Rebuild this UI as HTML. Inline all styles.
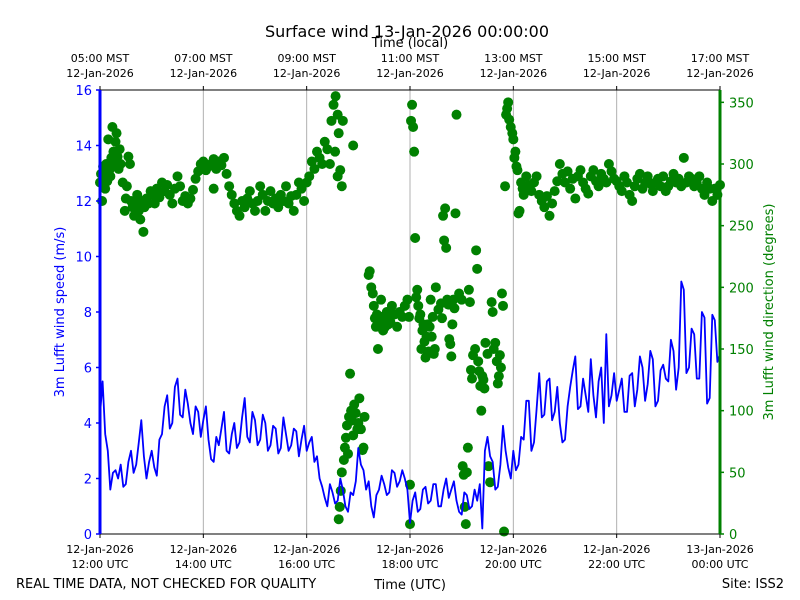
<!DOCTYPE html>
<html><head><meta charset="utf-8"><style>
html,body{margin:0;padding:0;background:#fff}
svg{display:block;font-family:"DejaVu Sans","Liberation Sans",sans-serif}
</style></head><body>
<svg id="chart" width="800" height="600" viewBox="0 0 800 600">
<rect x="0" y="0" width="800" height="600" fill="#fff"/>
<text x="407" y="37" font-size="16" text-anchor="middle">Surface wind 13-Jan-2026 00:00:00</text>
<text x="410" y="47" font-size="13" text-anchor="middle">Time (local)</text>
<g id="grid"></g><g id="dirs"></g><g id="speed"></g><g id="axes"></g>
<text x="410" y="589" font-size="13" text-anchor="middle">Time (UTC)</text>
<text x="16" y="588" font-size="13">REAL TIME DATA, NOT CHECKED FOR QUALITY</text>
<text x="784" y="588" font-size="13" text-anchor="end">Site: ISS2</text>
<text transform="translate(64,312) rotate(-90)" font-size="13" fill="#0000ff" text-anchor="middle">3m Lufft wind speed (m/s)</text>
<text transform="translate(773,312) rotate(-90)" font-size="13" fill="#008000" text-anchor="middle">3m Lufft wind direction (degrees)</text>
</svg>
<script>
const speedValues=[4.3,5.5,3.6,3.0,1.6,2.2,2.3,2.0,2.5,1.7,1.8,2.6,3.0,2.2,2.5,3.3,4.1,2.8,2.0,2.6,
3.0,2.4,2.1,3.4,3.6,4.6,5.0,3.8,4.0,5.3,5.6,4.3,4.2,5.2,4.7,4.0,3.6,4.6,4.4,3.5,
4.1,4.6,3.4,2.7,2.6,3.5,3.2,3.8,4.4,3.0,2.9,3.6,4.0,3.1,3.3,4.2,4.9,3.5,3.3,4.4,
4.1,3.2,3.4,4.3,4.0,3.0,3.2,3.9,3.8,2.9,3.1,4.2,3.6,3.0,3.2,3.8,3.7,2.8,3.4,3.9,
3.0,3.3,3.5,2.6,2.8,2.0,1.7,1.3,1.0,1.8,1.5,1.1,1.2,2.0,1.6,1.0,0.8,1.5,1.4,1.9,
3.1,2.5,2.3,1.6,1.9,1.0,0.6,1.4,1.6,2.1,1.8,1.4,1.5,2.3,2.2,1.7,1.9,2.3,2.0,1.6,
0.4,1.2,1.5,0.8,0.9,1.6,1.7,1.1,1.2,1.8,1.8,1.0,1.0,1.6,2.0,1.3,1.6,1.9,1.2,0.8,
0.7,1.5,1.4,0.9,1.0,1.6,1.2,1.8,0.2,3.0,3.5,2.8,2.6,1.6,1.7,2.5,3.9,3.0,2.4,2.0,
3.0,2.3,2.5,3.5,3.4,4.8,4.8,3.0,3.3,4.5,5.8,4.2,4.3,5.5,5.6,4.1,4.4,5.3,4.0,3.3,
3.4,4.6,5.3,5.9,6.4,4.5,4.6,5.6,5.0,4.4,6.3,5.0,4.2,5.5,6.0,4.0,7.2,4.6,5.0,5.8,
4.8,5.2,5.6,4.4,4.4,5.7,5.8,4.6,5.2,6.4,6.0,4.8,5.4,6.6,6.3,4.6,4.8,5.9,6.1,5.6,
5.5,7.0,6.6,5.2,6.0,9.1,8.8,5.8,6.0,7.4,7.2,5.6,5.6,8.0,7.8,4.7,4.9,7.9,7.7,6.2,6.5];
const dirTimes=[0.00,0.02,0.04,0.06,0.08,0.10,0.12,0.14,0.16,0.18,0.20,0.22,0.24,0.26,0.28,0.30,0.32,0.34,0.36,0.38,0.40,0.44,0.48,0.50,0.52,0.55,0.58,0.60,
0.63,0.66,0.70,0.72,0.75,0.78,0.80,0.84,0.86,0.90,0.94,0.98,1.02,1.06,1.10,1.15,1.20,1.25,1.30,
1.35,1.40,1.45,1.50,1.55,1.60,1.65,1.70,1.75,1.80,1.85,1.90,1.95,
2.00,2.05,2.10,2.15,2.20,2.25,2.30,2.35,2.40,2.45,2.50,2.20,
2.55,2.60,2.65,2.70,2.75,2.80,2.85,2.90,2.95,3.00,3.05,3.10,3.15,3.20,3.25,3.30,3.35,3.40,3.45,3.50,3.55,3.60,3.65,3.70,3.75,3.80,3.85,3.90,3.95,4.00,
4.05,4.10,4.15,4.20,4.25,4.30,4.35,4.40,4.45,4.48,4.52,4.56,4.60,4.62,4.65,4.68,4.70,4.55,4.60,
4.62,4.64,4.66,4.68,4.72,4.74,4.76,4.78,4.80,4.82,4.84,4.86,4.88,4.90,4.92,4.95,4.98,5.00,5.02,5.05,5.08,5.10,5.12,4.90,
5.20,5.22,5.25,5.28,5.30,5.32,5.34,5.36,5.38,5.40,5.42,5.44,5.46,5.48,5.50,5.52,5.55,5.58,5.60,5.62,5.65,5.70,5.75,5.80,5.85,5.90,5.95,5.98,
6.00,6.00,6.02,6.04,6.06,6.08,6.10,6.12,6.14,6.16,6.18,6.20,6.22,6.24,6.26,6.28,6.30,6.32,6.34,6.36,6.38,6.40,6.42,6.44,6.46,6.48,6.50,6.55,6.60,6.62,6.64,6.66,6.68,6.70,6.72,6.74,6.76,6.78,6.80,6.82,6.84,6.86,6.88,6.90,6.95,7.00,
7.02,7.04,7.06,7.08,7.10,7.12,7.14,7.16,7.18,7.20,7.22,7.26,7.28,7.30,7.32,7.34,7.36,7.38,7.40,7.42,7.44,7.46,7.50,7.52,7.55,7.58,7.60,7.62,7.65,7.68,7.70,7.72,7.74,7.76,7.78,7.80,
7.82,7.84,7.86,7.88,7.90,7.92,7.95,7.98,8.00,8.02,8.04,8.06,8.08,8.10,8.12,8.15,8.18,8.20,8.25,8.30,
8.35,8.40,8.45,8.50,8.55,8.60,8.65,8.70,8.75,8.80,8.85,8.90,8.95,9.00,9.05,9.10,9.15,9.20,9.25,9.30,9.35,9.40,9.45,9.50,9.55,9.60,9.65,9.70,9.75,9.80,9.85,9.90,9.95,10.00,
10.05,10.10,10.15,10.20,10.25,10.30,10.35,10.40,10.45,10.50,10.55,10.60,10.65,10.70,10.75,10.80,10.85,10.90,10.95,11.00,11.05,11.10,11.15,11.20,11.25,11.30,11.35,11.40,11.45,11.50,11.55,11.60,11.65,11.70,11.75,11.80,11.85,11.90,11.95,12.00];
const dirValues=[285,292,270,298,288,280,300,286,320,295,290,305,330,310,300,318,325,306,296,312,300,285,262,272,282,306,300,270,
265,258,268,275,262,255,270,245,265,272,268,278,275,268,280,273,285,278,283,
275,268,280,290,282,270,274,268,272,279,288,294,300,
302,295,298,300,304,296,302,299,305,292,282,280,
275,268,262,258,270,265,272,278,268,262,270,282,275,262,270,278,268,272,265,275,270,282,268,274,262,275,285,280,270,285,
290,302,296,310,305,300,318,312,300,335,348,355,340,325,295,282,335,310,290,
12,22,35,50,60,70,78,88,65,95,130,100,92,80,105,98,85,90,110,85,68,70,95,315,
210,213,200,195,185,175,168,178,150,172,168,190,176,165,172,168,180,170,175,172,185,178,168,180,176,185,190,176,
40,8,335,348,330,310,240,192,198,185,175,178,150,165,170,156,143,160,170,148,168,190,160,176,146,150,200,182,187,175,258,238,264,232,190,186,158,154,144,170,190,183,260,340,195,190,
55,48,22,8,50,70,198,188,133,126,145,150,230,215,140,132,120,100,128,125,118,155,146,55,42,188,180,150,155,140,122,128,145,135,195,185,
2,282,340,345,350,336,330,325,320,305,310,298,295,260,262,285,280,275,290,283,
278,285,290,275,270,265,274,258,268,278,286,300,292,285,294,280,288,272,290,295,285,280,276,290,295,286,282,292,288,285,300,294,288,286,
282,278,290,285,275,270,282,288,292,280,285,290,284,278,285,288,282,290,278,282,286,292,285,288,282,305,285,290,288,282,285,290,280,275,285,280,270,280,275,283];
const bottomTickLabels=["12-Jan-2026|12:00 UTC","12-Jan-2026|14:00 UTC","12-Jan-2026|16:00 UTC","12-Jan-2026|18:00 UTC","12-Jan-2026|20:00 UTC","12-Jan-2026|22:00 UTC","13-Jan-2026|00:00 UTC"];
const topTickLabels=["05:00 MST|12-Jan-2026","07:00 MST|12-Jan-2026","09:00 MST|12-Jan-2026","11:00 MST|12-Jan-2026","13:00 MST|12-Jan-2026","15:00 MST|12-Jan-2026","17:00 MST|12-Jan-2026"];
const speedTicks=[0,2,4,6,8,10,12,14,16];
const dirTicks=[0,50,100,150,200,250,300,350];

const NS="http://www.w3.org/2000/svg";
const L=100,R=720,T=90,B=534;
const xs=h=>L+(R-L)*h/12;
const ys=v=>B-(B-T)*v/16;
const yd=v=>B-(B-T)*v/360;
const speedStep=12/(speedValues.length-1);
function mk(tag,attrs,parent){const e=document.createElementNS(NS,tag);for(const k in attrs)e.setAttribute(k,attrs[k]);parent.appendChild(e);return e;}
const grid=document.getElementById('grid'),dirs=document.getElementById('dirs'),sp=document.getElementById('speed'),ax=document.getElementById('axes');
for(let i=1;i<6;i++){const g=mk('line',{x1:xs(i*2),x2:xs(i*2),y1:T,y2:B,stroke:'#b0b0b0','stroke-width':1},grid);

}
for(let i=0;i<dirTimes.length;i++){const c=mk('circle',{cx:xs(dirTimes[i]),cy:yd(dirValues[i]),r:5,fill:'#008000'},dirs);

}
const pts=speedValues.map((v,i)=>xs(i*speedStep).toFixed(1)+','+ys(v).toFixed(1)).join(' ');
const pl=mk('polyline',{points:pts,fill:'none',stroke:'#0000ff','stroke-width':1.8,'stroke-linejoin':'round'},sp);


mk('line',{x1:L,x2:R,y1:T,y2:T,stroke:'#000','stroke-width':1},ax);
mk('line',{x1:L,x2:R,y1:B,y2:B,stroke:'#000','stroke-width':1},ax);
const ls=mk('line',{x1:L,x2:L,y1:T,y2:B,stroke:'#0000ff','stroke-width':3},ax);


const rs=mk('line',{x1:R,x2:R,y1:T,y2:B,stroke:'#008000','stroke-width':3},ax);


bottomTickLabels.forEach((lab,i)=>{const x=xs(i*2);mk('line',{x1:x,x2:x,y1:B,y2:B+4,stroke:'#000'},ax);
const p=lab.split('|');const t=mk('text',{x:x,y:553,'font-size':11,'text-anchor':'middle'},ax);t.textContent=p[0];


const t2=mk('text',{x:x,y:568,'font-size':11,'text-anchor':'middle'},ax);t2.textContent=p[1];

});
topTickLabels.forEach((lab,i)=>{const x=xs(i*2);mk('line',{x1:x,x2:x,y1:T,y2:T-4,stroke:'#000'},ax);
const p=lab.split('|');const t=mk('text',{x:x,y:62,'font-size':11,'text-anchor':'middle'},ax);t.textContent=p[0];


const t2=mk('text',{x:x,y:77,'font-size':11,'text-anchor':'middle'},ax);t2.textContent=p[1];

});
speedTicks.forEach(v=>{const y=ys(v);mk('line',{x1:L-4,x2:L,y1:y,y2:y,stroke:'#0000ff','stroke-width':1.5},ax);
const t=mk('text',{x:L-8,y:y+5,'font-size':13,'text-anchor':'end',fill:'#0000ff'},ax);t.textContent=v;

});
dirTicks.forEach(v=>{const y=yd(v);mk('line',{x1:R,x2:R+4,y1:y,y2:y,stroke:'#008000','stroke-width':1.5},ax);
const t=mk('text',{x:R+9,y:y+5,'font-size':13,fill:'#008000'},ax);t.textContent=v;

});
</script>
</body></html>
